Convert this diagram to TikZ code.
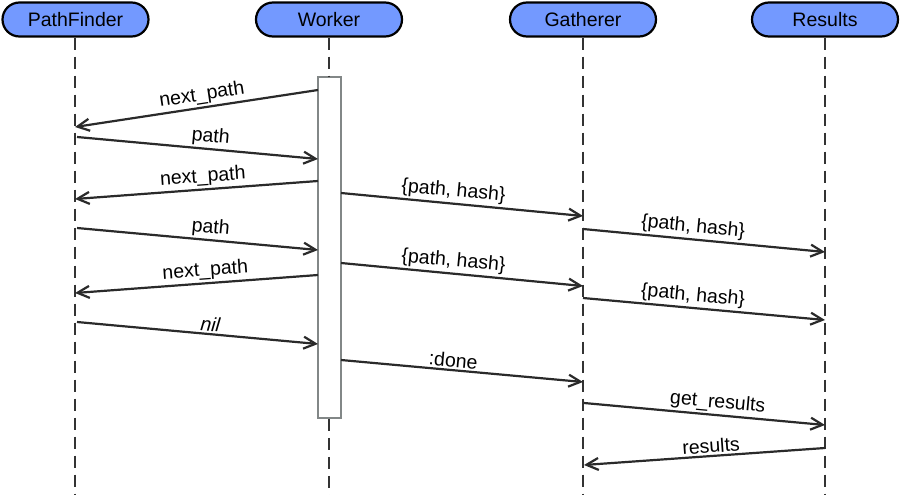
\documentclass[tikz,border=0pt]{standalone}
\usepackage{fontspec}
\setmainfont{Liberation Sans}
\usetikzlibrary{arrows.meta,shapes.misc}
\definecolor{headblue}{RGB}{115,153,255}
\definecolor{ink}{RGB}{42,42,42}
\definecolor{lifegray}{RGB}{51,51,51}
\definecolor{boxgray}{RGB}{130,135,135}
\begin{document}
\begin{tikzpicture}[x=1pt,y=-1pt,
  every node/.style={font=\fontsize{19.5}{21}\selectfont},
  head/.style={rounded rectangle, draw=black, line width=2.2pt, fill=headblue,
    minimum width=146pt, minimum height=34pt, inner sep=0pt},
  lifeline/.style={draw=lifegray, line width=2.2pt, dash pattern=on 12pt off 7pt},
  actbox/.style={draw=boxgray, line width=1.8pt, fill=white, minimum width=23pt,
    minimum height=341pt, inner sep=0pt},
  msg/.style={draw=ink, line width=2.2pt,
    -{Straight Barb[length=12pt,width=12pt,line width=2.2pt]}},
  lbl/.style={above, sloped, inner sep=2pt, text=black}]
\useasboundingbox (0,0) rectangle (900,495);

% headers
\node[head] (pf) at (75.5,19.5) {PathFinder};
\node[head] (wk) at (329,19.5) {Worker};
\node[head] (ga) at (583,19.5) {Gatherer};
\node[head] (rs) at (825,19.5) {Results};

% activation box
\node[actbox] (act) at (329.5,247.5) {};

% bottom ends of lifelines
\coordinate (pfb) at (75,495);
\coordinate (wkb) at (329,495);
\coordinate (gab) at (583,495);
\coordinate (rsb) at (825,495);

% lifelines
\draw[lifeline] (pf.south -| pfb) -- (pfb);
\draw[lifeline] (wk.south -| wkb) -- (act.north -| wkb);
\draw[lifeline] (act.south -| wkb) -- (wkb);
\draw[lifeline] (ga.south -| gab) -- (gab);
\draw[lifeline] (rs.south -| rsb) -- (rsb);

% message end points
\coordinate (s1) at (318,90);   \coordinate (e1) at (75,127);
\coordinate (s2) at (77,137);   \coordinate (e2) at (318,159);
\coordinate (s3) at (318,181);  \coordinate (e3) at (75,199);
\coordinate (s4) at (341,193);  \coordinate (e4) at (583,216);
\coordinate (s5) at (583,229);  \coordinate (e5) at (825,252);
\coordinate (s6) at (77,228);   \coordinate (e6) at (318,250);
\coordinate (s7) at (341,263);  \coordinate (e7) at (583,286);
\coordinate (s8) at (318,275);  \coordinate (e8) at (75,293);
\coordinate (s9) at (583,298);  \coordinate (e9) at (825,320);
\coordinate (s10) at (77,322);  \coordinate (e10) at (318,344);
\coordinate (s11) at (341,360); \coordinate (e11) at (583,382);
\coordinate (s12) at (584,403); \coordinate (e12) at (825,425);
\coordinate (s13) at (825,448); \coordinate (e13) at (584,465);

% messages
\draw[msg] (s1) -- node[lbl, pos=0.47] {next\_path} (e1);
\draw[msg] (s2) -- node[lbl, pos=0.55] {path} (e2);
\draw[msg] (s3) -- node[lbl, pos=0.47] {next\_path} (e3);
\draw[msg] (s4) -- node[lbl, pos=0.46] {\{path, hash\}} (e4);
\draw[msg] (s5) -- node[lbl, pos=0.45] {\{path, hash\}} (e5);
\draw[msg] (s6) -- node[lbl, pos=0.55] {path} (e6);
\draw[msg] (s7) -- node[lbl, pos=0.46] {\{path, hash\}} (e7);
\draw[msg] (s8) -- node[lbl, pos=0.46] {next\_path} (e8);
\draw[msg] (s9) -- node[lbl, pos=0.45] {\{path, hash\}} (e9);
\draw[msg] (s10) -- node[lbl, pos=0.55] {\itshape nil} (e10);
\draw[msg] (s11) -- node[lbl, pos=0.46] {:done} (e11);
\draw[msg] (s12) -- node[lbl, pos=0.55] {get\_results} (e12);
\draw[msg] (s13) -- node[lbl, pos=0.47] {results} (e13);
\end{tikzpicture}
\end{document}
